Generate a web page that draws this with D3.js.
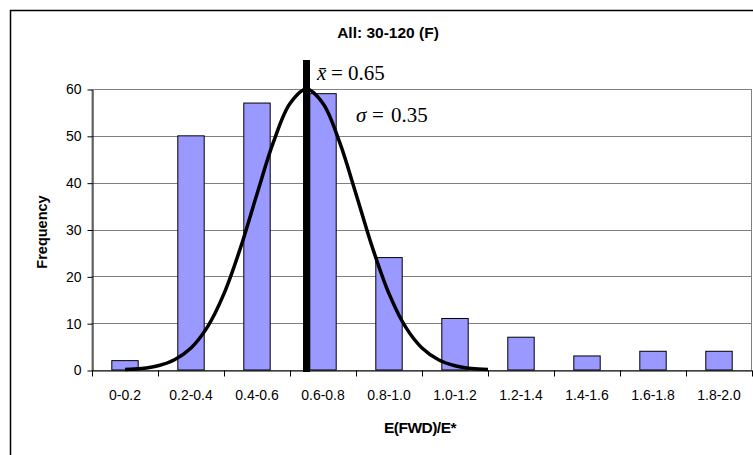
<!DOCTYPE html>
<html>
<head>
<meta charset="utf-8">
<script src="https://cdn.jsdelivr.net/npm/d3@7"></script>
<style>
  body { margin: 0; background: #fff; }
  svg { display: block; font-family: "Liberation Sans", Arial, sans-serif; }
</style>
</head>
<body>
<svg width="753" height="455"></svg>
<script>
var categories = ['0-0.2', '0.2-0.4', '0.4-0.6', '0.6-0.8', '0.8-1.0',
  '1.0-1.2', '1.2-1.4', '1.4-1.6', '1.6-1.8', '1.8-2.0'];
var frequency = [2, 50, 57, 59, 24, 11, 7, 3, 4, 4];
var binEdges = [0, 0.2, 0.4, 0.6, 0.8, 1.0, 1.2, 1.4, 1.6, 1.8, 2.0];
var yTicks = [0, 10, 20, 30, 40, 50, 60];
// normal curve
var curveX = [0.1, 0.15, 0.2, 0.25, 0.3, 0.35, 0.4, 0.45, 0.5, 0.55, 0.6, 0.65,
  0.7, 0.75, 0.8, 0.85, 0.9, 0.95, 1.0, 1.05, 1.1, 1.15, 1.2];
var curveY = [0.1, 0.3, 0.9, 2.2, 4.7, 9.2, 16.3, 26.1, 37.6, 48.7, 56.9, 60,
  56.9, 48.7, 37.6, 26.1, 16.3, 9.2, 4.7, 2.2, 0.9, 0.3, 0.1];
var mean = 0.65;

var svg = d3.select('svg');
var plotLeft = 92, plotRight = 752, plotTop = 89, plotBottom = 370;

var x = d3.scaleBand()
  .domain(categories)
  .range([plotLeft, plotRight])
  .paddingInner(0.6)
  .paddingOuter(0.3);
var xv = d3.scaleLinear().domain([0, 2]).range([plotLeft, plotRight]);
var y = d3.scaleLinear().domain([0, 60]).range([plotBottom, plotTop]);

// chart border
svg.append('rect')
  .attr('x', 10.5).attr('y', 10.5)
  .attr('width', 780).attr('height', 460)
  .attr('fill', 'none')
  .attr('stroke', '#000')
  .attr('stroke-width', 1.5);

// plot area border
svg.append('rect')
  .attr('x', plotLeft).attr('y', plotTop + 0.5)
  .attr('width', plotRight - plotLeft - 0.5).attr('height', plotBottom - plotTop)
  .attr('fill', 'none')
  .attr('stroke', '#808080');

// gridlines
svg.append('g')
  .selectAll('line')
  .data(yTicks.slice(1))
  .enter()
  .append('line')
  .attr('x1', plotLeft).attr('x2', plotRight)
  .attr('y1', function (d) { return Math.round(y(d)) + 0.5; })
  .attr('y2', function (d) { return Math.round(y(d)) + 0.5; })
  .attr('stroke', '#808080');

// bars
svg.append('g')
  .selectAll('rect')
  .data(frequency)
  .enter()
  .append('rect')
  .attr('x', function (d, i) { return x(categories[i]); })
  .attr('y', function (d) { return y(d); })
  .attr('width', x.bandwidth())
  .attr('height', function (d) { return plotBottom - y(d); })
  .attr('fill', '#9999ff')
  .attr('stroke', '#000')
  .attr('stroke-width', 1);

// y axis
var yAxis = svg.append('g')
  .attr('transform', 'translate(' + (plotLeft + 0.5) + ',0.5)')
  .call(d3.axisLeft(y).tickValues(yTicks).tickSize(5).tickSizeOuter(0));
yAxis.select('.domain').attr('stroke', '#000');
yAxis.selectAll('text')
  .attr('font-size', 14)
  .attr('font-family', '"Liberation Sans", Arial, sans-serif')
  .attr('fill', '#000')
  .attr('dx', '-3');

// x axis ticks at bin edges
var xAxis = svg.append('g')
  .attr('transform', 'translate(0,' + (plotBottom + 0.5) + ')')
  .call(d3.axisBottom(xv).tickValues(binEdges).tickSize(6).tickSizeOuter(0).tickFormat(''));
xAxis.select('.domain').attr('stroke', '#000');

// x category labels
svg.append('g')
  .selectAll('text')
  .data(categories)
  .enter()
  .append('text')
  .attr('x', function (d) { return x(d) + x.bandwidth() / 2; })
  .attr('y', 400)
  .attr('text-anchor', 'middle')
  .attr('font-size', 14)
  .text(function (d) { return d; });

// normal curve
var line = d3.line()
  .x(function (d, i) { return xv(curveX[i]); })
  .y(function (d) { return y(d); })
  .curve(d3.curveCatmullRom);
svg.append('path')
  .datum(curveY)
  .attr('d', line)
  .attr('fill', 'none')
  .attr('stroke', '#000')
  .attr('stroke-width', 3.5);

// mean line
svg.append('line')
  .attr('x1', xv(mean)).attr('x2', xv(mean))
  .attr('y1', 60).attr('y2', plotBottom + 2)
  .attr('stroke', '#000')
  .attr('stroke-width', 7);

// annotations
var serif = '"Liberation Serif", "Times New Roman", serif';
var t1 = svg.append('text')
  .attr('y', 80)
  .attr('font-family', serif)
  .attr('font-size', 21);
t1.append('tspan').attr('x', 317).attr('font-style', 'italic').text('x\u0304');
t1.append('tspan').attr('x', 331).text('=');
t1.append('tspan').attr('x', 348).text('0.65');

var t2 = svg.append('text')
  .attr('y', 122)
  .attr('font-family', serif)
  .attr('font-size', 21);
t2.append('tspan').attr('x', 356).attr('font-style', 'italic').text('\u03c3');
t2.append('tspan').attr('x', 372).text('=');
t2.append('tspan').attr('x', 391).text('0.35');

// titles
svg.append('text')
  .attr('x', 388).attr('y', 38)
  .attr('text-anchor', 'middle')
  .attr('font-size', 15.5)
  .attr('font-weight', 'bold')
  .text('All: 30-120 (F)');

svg.append('text')
  .attr('x', 420).attr('y', 433)
  .attr('text-anchor', 'middle')
  .attr('font-size', 15.5)
  .attr('font-weight', 'bold')
  .attr('letter-spacing', -0.5)
  .text('E(FWD)/E*');

svg.append('text')
  .attr('transform', 'translate(47,232) rotate(-90)')
  .attr('text-anchor', 'middle')
  .attr('font-size', 14.5)
  .attr('font-weight', 'bold')
  .text('Frequency');
</script>
</body>
</html>
